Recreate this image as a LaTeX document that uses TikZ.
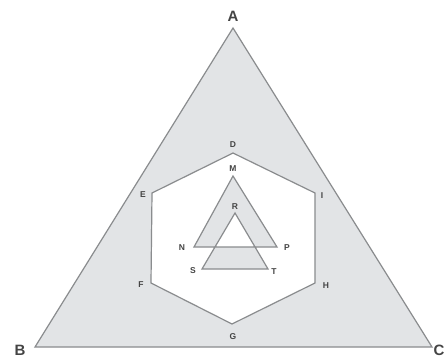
\documentclass[tikz,border=0pt]{standalone}
\usepackage{fontspec}
\setmainfont{Liberation Sans}
\definecolor{fillg}{HTML}{E2E4E6}
\definecolor{lineg}{HTML}{8A8C8E}
\definecolor{txtg}{HTML}{444444}
\begin{document}
\begin{tikzpicture}[x=1pt,y=-1pt,
  edge/.style={draw=lineg,line width=1.2pt,line join=miter},
  big/.style={font=\fontsize{15}{15}\selectfont\bfseries,text=txtg,inner sep=0pt},
  small/.style={font=\fontsize{8.5}{8.5}\selectfont\bfseries,text=txtg,inner sep=0pt}]
\useasboundingbox[fill=white] (0,0) rectangle (445,360);
% vertices
\coordinate (A) at (233,28);
\coordinate (B) at (35,347);
\coordinate (C) at (432,347);
\coordinate (D) at (233,153);
\coordinate (E) at (152,193);
\coordinate (F) at (151,283);
\coordinate (G) at (232,324);
\coordinate (H) at (315,283);
\coordinate (I) at (315,193);
\coordinate (M) at (233,176);
\coordinate (N) at (194,247);
\coordinate (P) at (277,247);
\coordinate (R) at (235,213);
\coordinate (S) at (202,269);
\coordinate (T) at (268,269);
% shapes
\path[edge,fill=fillg] (A) -- (B) -- (C) -- cycle;
\path[edge,fill=white] (D) -- (E) -- (F) -- (G) -- (H) -- (I) -- cycle;
\path[edge,fill=fillg,even odd rule] (M) -- (N) -- (P) -- cycle (R) -- (S) -- (T) -- cycle;
% labels
\node[big] (lA) at (233,16) {A};
\node[big] (lB) at (20,350) {B};
\node[big] (lC) at (439,350) {C};
\node[small] (lD) at (233,145) {D};
\node[small] (lE) at (143,195) {E};
\node[small] (lF) at (141,285) {F};
\node[small] (lG) at (233,337) {G};
\node[small] (lH) at (326,286) {H};
\node[small] (lI) at (322,196) {I};
\node[small] (lM) at (233,169) {M};
\node[small] (lN) at (182,248) {N};
\node[small] (lP) at (287,248) {P};
\node[small] (lR) at (235,207) {R};
\node[small] (lS) at (193,271) {S};
\node[small] (lT) at (274,272) {T};
\end{tikzpicture}
\end{document}
